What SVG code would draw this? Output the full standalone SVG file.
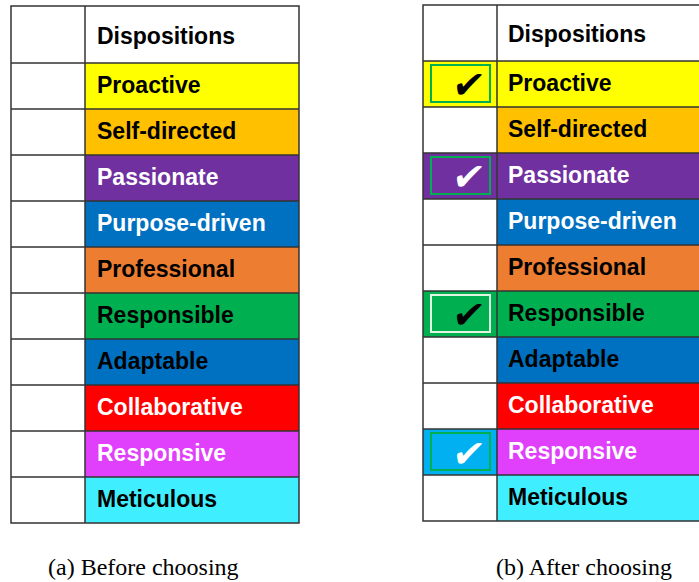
<svg xmlns="http://www.w3.org/2000/svg" width="699" height="582" viewBox="0 0 699 582">
<style>
.lbl{font-family:"Liberation Sans",Arial,sans-serif;font-weight:bold;font-size:23px}
.k{fill:#000}.w{fill:#fff}
.cap{font-family:"Liberation Serif","Times New Roman",serif;font-size:24px;fill:#000}
.grid{stroke:#333;stroke-width:1.5;fill:none}
.box{fill:none;stroke:#00B050;stroke-width:2}
.chk{font-family:"DejaVu Sans",sans-serif;font-size:38px;text-anchor:middle}
</style>
<rect width="699" height="582" fill="#fff"/>
<!-- Left table (a) -->
<g id="tableA">
  <g id="a-header"><rect x="85" y="6" width="214" height="57" fill="#fff"/><text class="lbl k" x="97" y="44">Dispositions</text></g>
  <g id="a-proactive"><rect x="85" y="63" width="214" height="46" fill="#FFFF00"/><text class="lbl k" x="97" y="93">Proactive</text></g>
  <g id="a-selfdirected"><rect x="85" y="109" width="214" height="46" fill="#FFC000"/><text class="lbl k" x="97" y="139">Self-directed</text></g>
  <g id="a-passionate"><rect x="85" y="155" width="214" height="46" fill="#7030A0"/><text class="lbl w" x="97" y="185">Passionate</text></g>
  <g id="a-purpose"><rect x="85" y="201" width="214" height="46" fill="#0070C0"/><text class="lbl w" x="97" y="231">Purpose-driven</text></g>
  <g id="a-professional"><rect x="85" y="247" width="214" height="46" fill="#ED7D31"/><text class="lbl k" x="97" y="277">Professional</text></g>
  <g id="a-responsible"><rect x="85" y="293" width="214" height="46" fill="#00B050"/><text class="lbl k" x="97" y="323">Responsible</text></g>
  <g id="a-adaptable"><rect x="85" y="339" width="214" height="46" fill="#0070C0"/><text class="lbl k" x="97" y="369">Adaptable</text></g>
  <g id="a-collaborative"><rect x="85" y="385" width="214" height="46" fill="#FF0000"/><text class="lbl w" x="97" y="415">Collaborative</text></g>
  <g id="a-responsive"><rect x="85" y="431" width="214" height="46" fill="#E040FB"/><text class="lbl w" x="97" y="461">Responsive</text></g>
  <g id="a-meticulous"><rect x="85" y="477" width="214" height="46" fill="#40EFFF"/><text class="lbl k" x="97" y="507">Meticulous</text></g>
  <g id="a-grid" class="grid">
    <rect x="11" y="6" width="288" height="517"/>
    <line x1="85" y1="6" x2="85" y2="523"/>
    <path d="M11 63H299M11 109H299M11 155H299M11 201H299M11 247H299M11 293H299M11 339H299M11 385H299M11 431H299M11 477H299"/>
  </g>
</g>
<!-- Right table (b) -->
<g id="tableB">
  <g id="b-header"><rect x="497" y="5" width="203" height="56" fill="#fff"/><text class="lbl k" x="508" y="42">Dispositions</text></g>
  <g id="b-proactive"><rect x="423" y="61" width="277" height="46" fill="#FFFF00"/><rect class="box" x="431" y="65" width="59" height="37"/><text class="chk k" transform="translate(467 98) skewX(-8)">✔</text><text class="lbl k" x="508" y="91">Proactive</text></g>
  <g id="b-selfdirected"><rect x="497" y="107" width="203" height="46" fill="#FFC000"/><text class="lbl k" x="508" y="137">Self-directed</text></g>
  <g id="b-passionate"><rect x="423" y="153" width="277" height="46" fill="#7030A0"/><rect class="box" x="431" y="157" width="59" height="37"/><text class="chk w" transform="translate(467 190) skewX(-8)">✔</text><text class="lbl w" x="508" y="183">Passionate</text></g>
  <g id="b-purpose"><rect x="497" y="199" width="203" height="46" fill="#0070C0"/><text class="lbl w" x="508" y="229">Purpose-driven</text></g>
  <g id="b-professional"><rect x="497" y="245" width="203" height="46" fill="#ED7D31"/><text class="lbl k" x="508" y="275">Professional</text></g>
  <g id="b-responsible"><rect x="423" y="291" width="277" height="46" fill="#00B050"/><rect x="431" y="295" width="59" height="37" fill="none" stroke="#E2F5E2" stroke-width="2"/><text class="chk k" transform="translate(467 328) skewX(-8)">✔</text><text class="lbl k" x="508" y="321">Responsible</text></g>
  <g id="b-adaptable"><rect x="497" y="337" width="203" height="46" fill="#0070C0"/><text class="lbl k" x="508" y="367">Adaptable</text></g>
  <g id="b-collaborative"><rect x="497" y="383" width="203" height="46" fill="#FF0000"/><text class="lbl w" x="508" y="413">Collaborative</text></g>
  <g id="b-responsive"><rect x="423" y="429" width="74" height="46" fill="#00B0F0"/><rect x="497" y="429" width="203" height="46" fill="#E040FB"/><rect class="box" x="431" y="433" width="59" height="37"/><text class="chk w" transform="translate(467 467) skewX(-8)">✔</text><text class="lbl w" x="508" y="459">Responsive</text></g>
  <g id="b-meticulous"><rect x="497" y="475" width="203" height="46" fill="#40EFFF"/><text class="lbl k" x="508" y="505">Meticulous</text></g>
  <g id="b-grid" class="grid">
    <path d="M700 5H423V521H700"/>
    <line x1="497" y1="5" x2="497" y2="521"/>
    <path d="M423 61H700M423 107H700M423 153H700M423 199H700M423 245H700M423 291H700M423 337H700M423 383H700M423 429H700M423 475H700"/>
  </g>
</g>
<g id="connectors"/>
<g id="captions">
  <text class="cap" x="48" y="575">(a) Before choosing</text>
  <text class="cap" x="496" y="575">(b) After choosing</text>
</g>
</svg>
